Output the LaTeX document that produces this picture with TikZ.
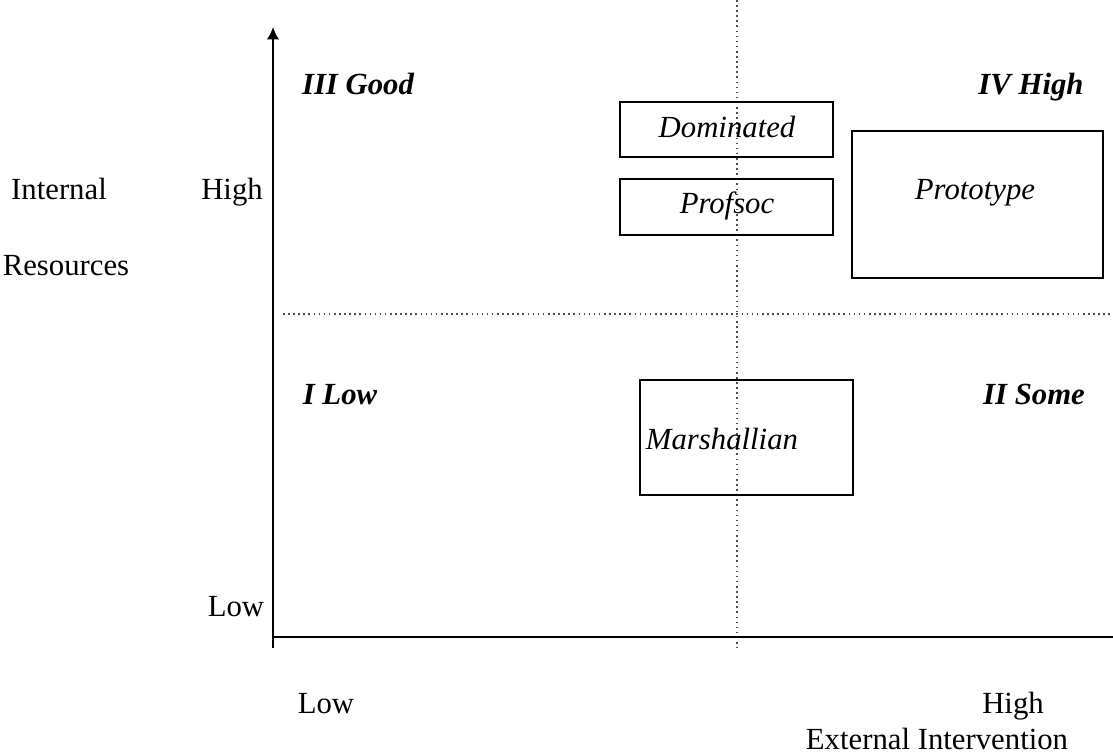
\documentclass[tikz,border=0pt]{standalone}
\usepackage{fontspec}
\setmainfont{Liberation Serif}
\usepackage{tikz}
\usetikzlibrary{arrows.meta}

\begin{document}
\begin{tikzpicture}
  [x=0.02cm,y=-0.02cm,
   plain label/.style={anchor=base,font=\fontsize{17.5}{20}\selectfont},
   box label/.style={anchor=base,font=\fontsize{17.5}{20}\selectfont\itshape},
   quad label/.style={anchor=base,font=\fontsize{17.5}{20}\selectfont\bfseries\itshape},
   region box/.style={draw,line width=1pt,inner sep=0pt},
   axis line/.style={line width=1.1pt},
   grid line/.style={dotted,line width=0.9pt,black!70}]

\useasboundingbox (0,0) rectangle (1113,756);

% axes
\coordinate (o) at (273,637);
\coordinate (ybot) at (273,648);
\coordinate (ytop) at (273,27);
\coordinate (xend) at (1113,637);
\coordinate (vtop) at (737,0);
\coordinate (vbot) at (737,648);
\coordinate (hleft) at (283,314);
\coordinate (hright) at (1113,314);

\draw[grid line] (vtop) -- (vbot);
\draw[grid line] (hleft) -- (hright);
\draw[axis line,-{Latex[length=7pt,width=7pt]}] (ybot) -- (ytop);
\draw[axis line] (o) -- (xend);

% boxes
\node[region box,minimum width=213*0.02cm,minimum height=55*0.02cm] (dom) at (726.5,129.5) {};
\node[region box,minimum width=213*0.02cm,minimum height=56*0.02cm] (prof) at (726.5,207) {};
\node[region box,minimum width=251*0.02cm,minimum height=147*0.02cm] (proto) at (977.5,204.5) {};
\node[region box,minimum width=213*0.02cm,minimum height=115*0.02cm] (marsh) at (746.5,437.5) {};
\node[box label] (domt) at (727,138) {Dominated};
\node[box label] (proft) at (727,214) {Profsoc};
\node[box label] (protot) at (975,200) {Prototype};
\node[box label] (marsht) at (722,450) {Marshallian};

% quadrant labels
\node[quad label] (q3) at (358,95) {III Good};
\node[quad label] (q4) at (1031,95) {IV High};
\node[quad label] (q1) at (340,405) {I Low};
\node[quad label] (q2) at (1034,405) {II Some};

% axis labels
\node[plain label] (int) at (59,200) {Internal};
\node[plain label] (res) at (66,276) {Resources};
\node[plain label] (yhigh) at (232,200) {High};
\node[plain label] (ylow) at (236,617) {Low};
\node[plain label] (xlow) at (326,714) {Low};
\node[plain label] (xhigh) at (1013,714) {High};
\node[plain label] (ext) at (937,749) {External Intervention};

\end{tikzpicture}
\end{document}
